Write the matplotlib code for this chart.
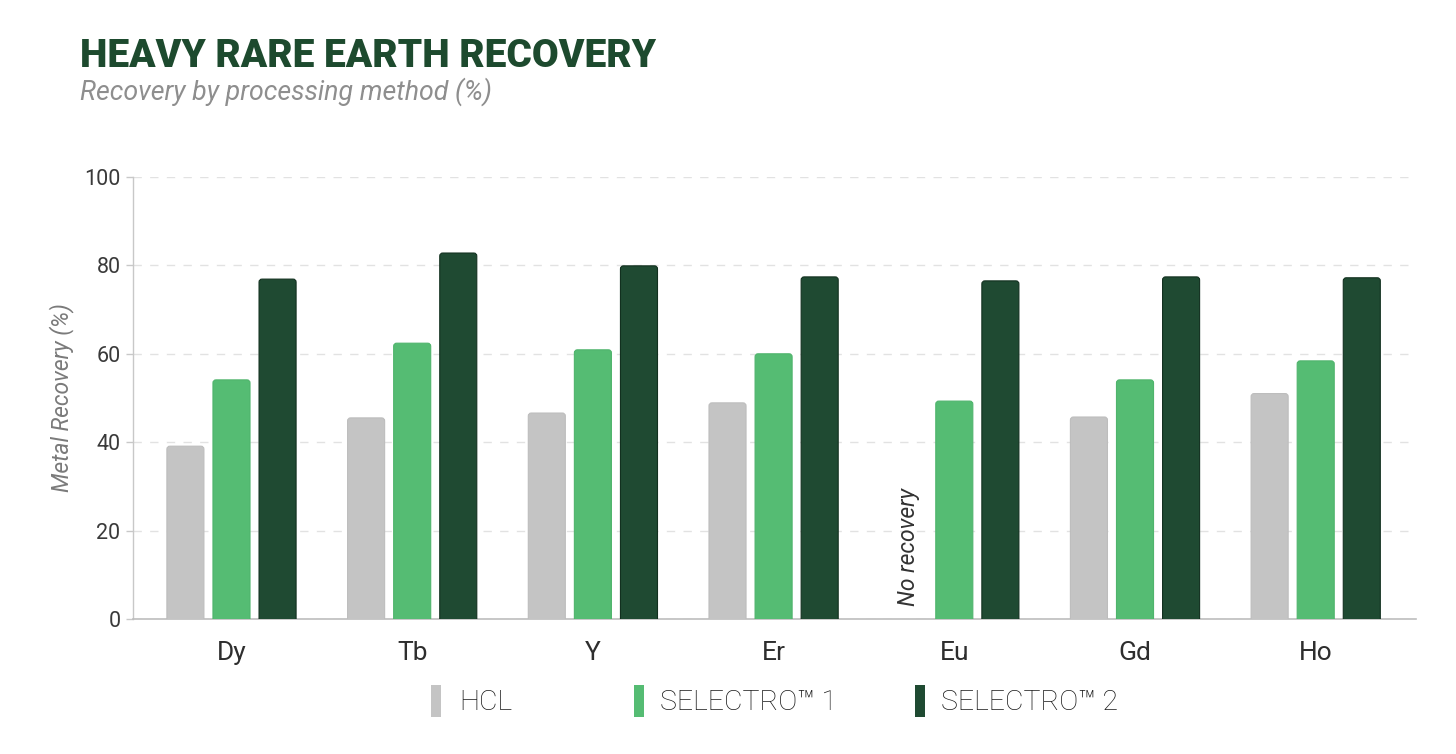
import matplotlib
matplotlib.use("Agg")
import matplotlib.pyplot as plt
from matplotlib.patches import FancyBboxPatch, Rectangle
import numpy as np

categories = ["Dy", "Tb", "Y", "Er", "Eu", "Gd", "Ho"]
series_names = ["HCL", "SELECTRO\u2122 1", "SELECTRO\u2122 2"]
hcl = [39.1, 45.5, 46.6, 48.9, np.nan, 45.7, 51.0]
selectro1 = [54.1, 62.4, 60.9, 60.0, 49.3, 54.1, 58.4]
selectro2 = [76.9, 82.8, 79.9, 77.4, 76.5, 77.4, 77.2]
yticks = [0, 20, 40, 60, 80, 100]

fills = ["#c4c4c4", "#55bc73", "#1f4a32"]
edges = ["#bdbdbd", "#4fb46c", "#12301f"]

plt.rcParams['font.family'] = ['Roboto', 'DejaVu Sans']

W, H = 1456, 754
fig = plt.figure(figsize=(W / 100, H / 100), dpi=100)
ax = fig.add_axes([133 / W, 1 - 619 / H, (1416 - 133) / W, (619 - 177) / H])

x = np.arange(len(categories))
offsets = [-0.255, 0.0, 0.255]
width = 0.205
px_x = 1 / 180.7
px_y = 100 / 442.0
radius_px = 3.0

for vals, off, fc, ec in zip([hcl, selectro1, selectro2], offsets, fills, edges):
    bars = ax.bar(x + off, vals, width=width, color=fc, edgecolor=ec, linewidth=0.8, zorder=3)
    for b in bars:
        h = b.get_height()
        if not np.isfinite(h) or h <= 0:
            continue
        b.set_visible(False)
        r = radius_px * px_x
        extra = radius_px * px_y * 2
        p = FancyBboxPatch((b.get_x(), -extra), b.get_width(), h + extra,
                           boxstyle=f"round,pad=0,rounding_size={r}",
                           mutation_aspect=px_y / px_x,
                           facecolor=fc, edgecolor=ec, linewidth=0.8, zorder=3,
                           transform=ax.transData)
        ax.add_patch(p)

ax.set_xlim(-0.545, 6.555)
ax.set_ylim(0, 100)
ax.set_yticks(yticks)
ax.set_xticks(x)
ax.set_xticklabels(categories)
ax.tick_params(axis='x', length=0, pad=16, labelsize=19, labelcolor="#2e2e2e")
ax.tick_params(axis='y', length=5, width=1, color="#c8c8c8", pad=4, labelsize=15.5, labelcolor="#3a3a3a")

ax.grid(axis='y', color="#e2e2e2", linestyle=(0, (6, 6)), linewidth=1, zorder=0)
ax.set_axisbelow(True)
for s in ["top", "right"]:
    ax.spines[s].set_visible(False)
ax.spines["left"].set_color("#c8c8c8")
ax.spines["bottom"].set_color("#bdbdbd")
ax.spines["left"].set_linewidth(1)
ax.spines["bottom"].set_linewidth(1.2)

eu = categories.index("Eu")
ax.text(eu + offsets[0], 3, "No recovery", rotation=90, ha='center', va='bottom',
        fontsize=16.5, style='italic', color="#333333", zorder=4)

fig.text(62 / W, 1 - 398 / H, "Metal Recovery (%)", rotation=90, ha='center', va='center',
         fontsize=16.5, style='italic', color="#7a7a7a")

fig.text(80 / W, 1 - 67 / H, "HEAVY RARE EARTH RECOVERY", ha='left', va='baseline',
         fontsize=28, fontweight='black', color="#1d4a2e")
fig.text(80 / W, 1 - 100 / H, "Recovery by processing method (%)", ha='left', va='baseline',
         fontsize=19.3, style='italic', color="#8e8e8e")

leg_patch_x = [431, 634, 915]
leg_text_x = [459, 660, 941]
for px, tx, fc, name in zip(leg_patch_x, leg_text_x, fills, series_names):
    fig.patches.append(Rectangle((px / W, 1 - 717 / H), 10 / W, 32 / H,
                                 transform=fig.transFigure, facecolor=fc, edgecolor='none'))
    fig.text(tx / W, 1 - 702 / H, name, ha='left', va='center', fontsize=20.5,
             fontweight='light', color="#1a1a1a")

fig.savefig("out.png", dpi=100, facecolor="white")
